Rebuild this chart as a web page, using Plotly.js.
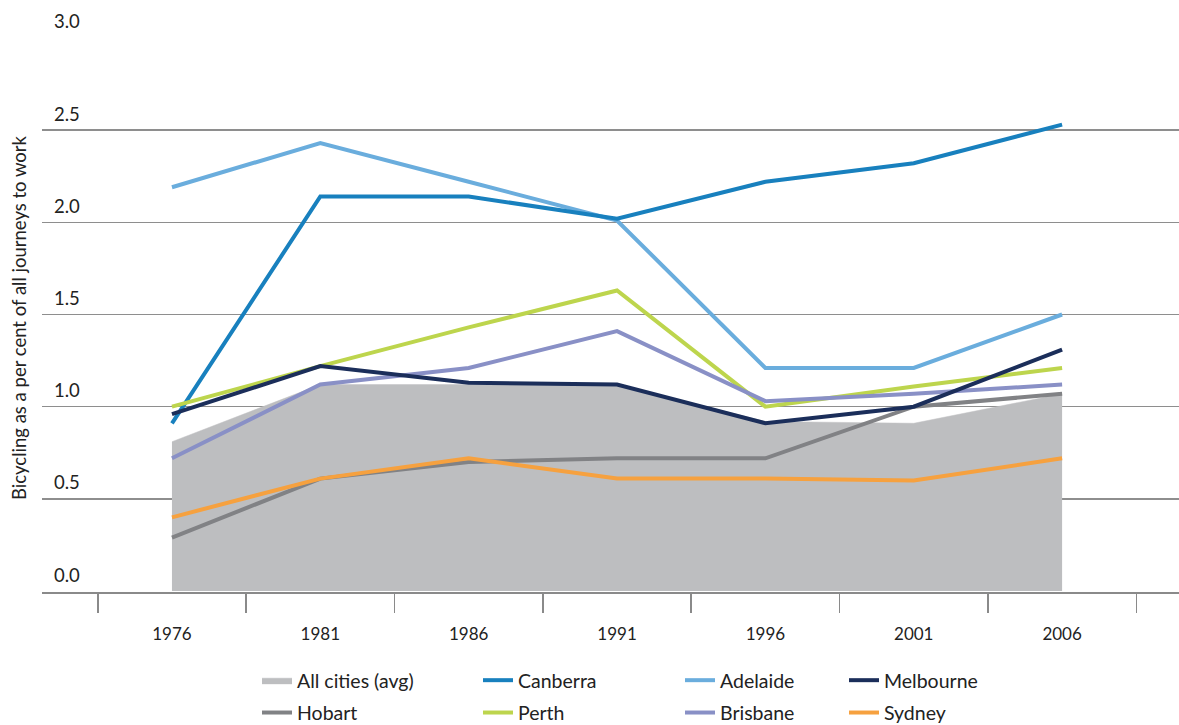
<!DOCTYPE html>
<html>
<head>
<meta charset="utf-8">
<script src="https://cdn.plot.ly/plotly-3.0.1.min.js"></script>
<style>html,body{margin:0;padding:0;background:#fff;}#chart{width:1179px;height:725px;}</style>
</head>
<body>
<div id="chart"></div>
<script>
const years = [1976, 1981, 1986, 1991, 1996, 2001, 2006];
const allCitiesAvg = [0.81, 1.12, 1.12, 1.12, 0.92, 0.91, 1.07];
const canberra  = [0.91, 2.14, 2.14, 2.02, 2.22, 2.32, 2.53];
const adelaide  = [2.19, 2.43, 2.22, 2.01, 1.21, 1.21, 1.50];
const melbourne = [0.96, 1.22, 1.13, 1.12, 0.91, 1.00, 1.31];
const hobart    = [0.29, 0.61, 0.70, 0.72, 0.72, 1.00, 1.07];
const perth     = [1.00, 1.22, 1.43, 1.63, 1.00, 1.11, 1.21];
const brisbane  = [0.72, 1.12, 1.21, 1.41, 1.03, 1.07, 1.12];
const sydney    = [0.40, 0.61, 0.72, 0.61, 0.61, 0.60, 0.72];
const yTicks = [0, 0.5, 1.0, 1.5, 2.0, 2.5, 3.0];
const yTickText = ['0.0', '0.5', '1.0', '1.5', '2.0', '2.5', '3.0'];
const separators = [1973.5, 1978.5, 1983.5, 1988.5, 1993.5, 1998.5, 2003.5, 2008.5];
const yTitle = 'Bicycling as a per cent of all journeys to work';

const FONT = 'Lato, "Noto Sans", sans-serif';
const LW = 4;

function line(name, y, color, legend, rank) {
  return {x: years, y: y, name: name, type: 'scatter', mode: 'lines',
          line: {color: color, width: LW}, legend: legend, legendrank: rank,
          legendgroup: name, hoverinfo: 'skip'};
}

const traces = [
  {x: years, y: allCitiesAvg, name: 'All cities (avg)', type: 'scatter', mode: 'lines',
   fill: 'tozeroy', fillcolor: '#bdbec0', line: {color: '#c2c3c5', width: 0.5},
   legend: 'legend', legendrank: 1, legendgroup: 'avg', hoverinfo: 'skip'},
  line('Hobart', hobart, '#818285', 'legend', 2),
  line('Adelaide', adelaide, '#6aaddd', 'legend3', 1),
  line('Canberra', canberra, '#1880be', 'legend2', 1),
  line('Perth', perth, '#bdd54d', 'legend2', 2),
  line('Brisbane', brisbane, '#8990c6', 'legend3', 2),
  line('Melbourne', melbourne, '#1b2e5a', 'legend4', 1),
  line('Sydney', sydney, '#f6a13f', 'legend4', 2)
];

function leg(xpx) {
  return {xref: 'container', yref: 'container', x: xpx / 1179, y: 1 - 661 / 725,
          xanchor: 'left', yanchor: 'top', orientation: 'v', bgcolor: 'rgba(0,0,0,0)',
          font: {family: FONT, size: 19.5, color: '#222'}, traceorder: 'grouped',
          tracegroupgap: 4, itemclick: false, itemdoubleclick: false};
}

const layout = {
  width: 1179, height: 725,
  margin: {l: 42, r: 0, t: 37, b: 133, autoexpand: false},
  paper_bgcolor: '#fff', plot_bgcolor: '#fff',
  font: {family: FONT, size: 17, color: '#222'},
  showlegend: true,
  legend: leg(257), legend2: leg(478), legend3: leg(680), legend4: leg(844),
  xaxis: {
    range: [1971.62, 2009.94], tickmode: 'array', tickvals: years,
    ticktext: years.map(String), ticks: '', showgrid: false, zeroline: false,
    showline: true, linecolor: '#8a8a8a', linewidth: 1.5, tickangle: 0,
    ticklabelstandoff: 26, tickfont: {family: FONT, size: 17, color: '#222'},
    minor: {tickmode: 'array', tickvals: separators, ticks: 'outside', ticklen: 19,
            tickwidth: 1.5, tickcolor: '#8a8a8a', showgrid: false},
    automargin: false, fixedrange: true
  },
  yaxis: {
    range: [-0.005, 3.005], tickmode: 'array', tickvals: yTicks, ticktext: yTickText,
    ticks: '', showgrid: true, gridcolor: '#8e8e8e', gridwidth: 1.5,
    zeroline: false, showline: false, ticklabelposition: 'inside top',
    ticklabeloverflow: 'allow',
    ticklabelstandoff: 9, ticklabelshift: -3,
    tickfont: {family: FONT, size: 18.5, color: '#222'},
    automargin: false, fixedrange: true
  },
  annotations: [{
    text: yTitle, xref: 'paper', yref: 'paper', x: (19 - 42) / 1137, y: (592 - 318) / 555,
    xanchor: 'center', yanchor: 'middle', textangle: -90, showarrow: false,
    font: {family: FONT, size: 18.5, color: '#222'}
  }]
};

Plotly.newPlot('chart', traces, layout, {displayModeBar: false, staticPlot: true});
</script>
</body>
</html>
